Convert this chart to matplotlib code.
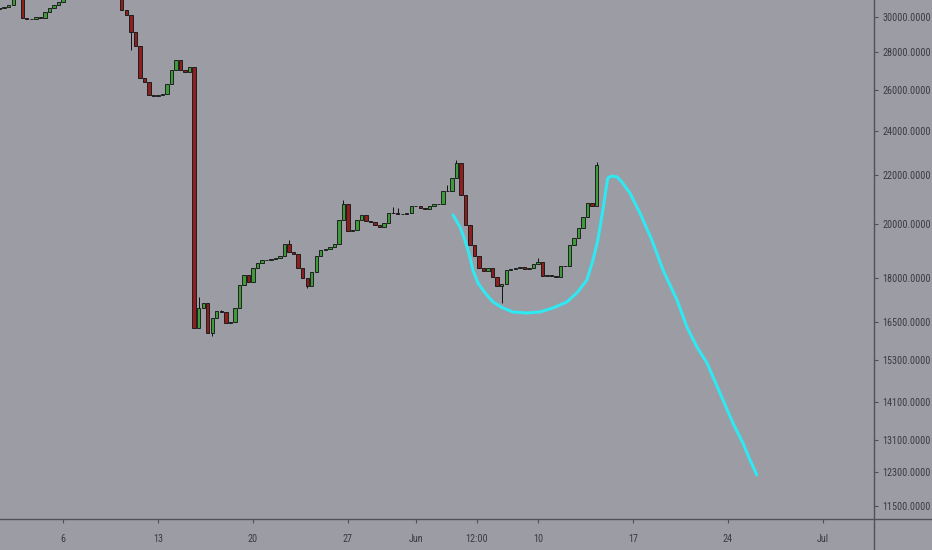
import matplotlib
matplotlib.use("Agg")
import matplotlib.pyplot as plt
import matplotlib.dates as mdates
from matplotlib.lines import Line2D
from matplotlib.ticker import FixedLocator, NullLocator
from matplotlib import font_manager
import pandas as pd

# 8h candles, open = previous close
first_open = 30475
closes = [
    30535, 30595, 30716, 31324, 31631, 29942, 29883, 29870, 30000, 29940,
    30296, 30535, 30716, 30895, 31324, 31800, 32200, 32600, 33000, 33300,
    33100, 32800, 33200, 33500, 33000, 32600, 32250, 30415, 30120, 29129,
    28343, 26619, 26411, 25746, 25696, 25746, 25797, 26308, 27039, 27574,
    27039, 26932, 27199, 16304, 16956, 17123, 16146, 16627, 16856, 16823,
    16465, 16497, 16956, 17739, 18090, 17843, 18339, 18521, 18629, 18640,
    18665, 18702, 18776, 19224, 18924, 18850, 18339, 17983, 17704, 18196,
    18776, 18998, 19036, 19111, 19224, 20149, 20792, 19720, 19758, 20149,
    20349, 20110, 20071, 19953, 19875, 20032, 20428, 20430, 20388, 20390,
    20428, 20711, 20700, 20629, 20588, 20711, 20792, 20800, 21328, 21330,
    21879, 22533, 21162, 19953, 19186, 18776, 18339, 18231, 18339, 18019,
    17704, 17774, 18267, 18303, 18339, 18375, 18303, 18339, 18484, 18556,
    18054, 18090, 18054, 18019, 18411, 18420, 19186, 19450, 19836, 20268,
    20833, 20711, 22445,
]
# visible wicks beyond the body (candle index -> price)
wick_high = {44: 17327, 49: 16900, 64: 19374, 76: 20955, 87: 20670, 88: 20629,
             99: 21580, 101: 22665, 119: 18703, 132: 22577}
wick_low = {29: 28120, 47: 16051, 68: 17635, 111: 17123}

# hand drawn projection (days since May 1, price)
proj_days = [33.74, 34.26, 34.62, 34.99, 35.21, 35.58, 36.10, 36.69, 37.42, 38.16,
             39.19, 40.15, 41.11, 42.14, 42.88, 43.61, 44.06, 44.42, 44.79, 45.01,
             45.16, 45.46, 45.83, 46.19, 46.78, 47.52, 48.40, 49.22, 50.25, 50.98,
             51.72, 52.46, 53.42, 54.37, 55.11, 55.63, 56.14]
proj_price = [20348, 19875, 19374, 18738, 18267, 17809, 17467, 17157, 16956, 16823,
              16790, 16823, 16956, 17157, 17467, 17913, 18629, 19374, 20548, 21370,
              21879, 21966, 21922, 21706, 21243, 20428, 19374, 18267, 17224, 16337,
              15707, 15222, 14353, 13533, 13013, 12586, 12221]

y_ticks = [11500, 12300, 13100, 14100, 15300, 16500, 18000, 20000, 22000,
           24000, 26000, 28000, 30000]
x_tick_dates = ["2022-05-06 00:00", "2022-05-13 00:00", "2022-05-20 00:00",
                "2022-05-27 00:00", "2022-06-01 00:00", "2022-06-05 12:00",
                "2022-06-10 00:00", "2022-06-17 00:00", "2022-06-24 00:00",
                "2022-07-01 00:00"]
x_tick_labels = ["6", "13", "20", "27", "Jun", "12:00", "10", "17", "24", "Jul"]

bg = "#9b9ca4"
axis_col = "#50515a"
txt_col = "#3a3b42"

# narrow face for the price scale if one is around
names = {f.name for f in font_manager.fontManager.ttflist}
label_font = font_manager.FontProperties(family=["DejaVu Sans"], size=6.3)
for cand in ["Liberation Sans Narrow", "DejaVu Sans Condensed", "Roboto Condensed"]:
    if cand in names:
        label_font = font_manager.FontProperties(family=[cand, "DejaVu Sans"], size=7.3)
        break

base = pd.Timestamp("2022-05-01")
times = pd.date_range("2022-05-01 08:00", periods=len(closes), freq="8h")
x = mdates.date2num(times)
opens = [first_open] + closes[:-1]
highs = [wick_high.get(i, max(o, c)) for i, (o, c) in enumerate(zip(opens, closes))]
lows = [wick_low.get(i, min(o, c)) for i, (o, c) in enumerate(zip(opens, closes))]

fig = plt.figure(figsize=(9.32, 5.5), dpi=100)
fig.patch.set_facecolor(bg)
ax = fig.add_axes([0, 31 / 550, 874 / 932, 519 / 550])
ax.set_facecolor(bg)
ax.set_yscale("log")

ax.vlines(x, lows, highs, color="#111111", lw=0.7, zorder=2)
for xi, o, c in zip(x, opens, closes):
    col = "#3f9a3a" if c >= o else "#8e1f1f"
    ax.bar(xi, abs(c - o), bottom=min(o, c), width=0.25, color=col,
           edgecolor="#111111", linewidth=0.6, zorder=3)

proj_x = mdates.date2num([base + pd.Timedelta(days=d) for d in proj_days])
ax.plot(proj_x, proj_price, color="#30e8f2", lw=2.2, solid_capstyle="round", zorder=4)

ax.set_xlim(mdates.date2num(base + pd.Timedelta(days=0.358)),
            mdates.date2num(base + pd.Timedelta(days=64.77)))
ax.set_ylim(11210, 31017)

ax.yaxis.tick_right()
ax.yaxis.set_major_locator(FixedLocator(y_ticks))
ax.yaxis.set_minor_locator(NullLocator())
ax.set_yticklabels([f"{v:.4f}" for v in y_ticks])
ax.xaxis.set_major_locator(FixedLocator(mdates.date2num(pd.to_datetime(x_tick_dates))))
ax.xaxis.set_minor_locator(NullLocator())
ax.set_xticklabels(x_tick_labels)

ax.tick_params(axis="y", direction="out", length=3, width=0.8, color=axis_col,
               labelcolor=txt_col, pad=3)
ax.tick_params(axis="x", direction="out", length=3, width=0.8, color=axis_col,
               labelcolor=txt_col, pad=8)
for lab in ax.get_xticklabels() + ax.get_yticklabels():
    lab.set_fontproperties(label_font)
for s in ax.spines.values():
    s.set_visible(False)

# axis lines run across the whole picture
fig.add_artist(Line2D([0, 1], [31 / 550, 31 / 550], transform=fig.transFigure,
                      color=axis_col, lw=1))
fig.add_artist(Line2D([874 / 932, 874 / 932], [0, 1], transform=fig.transFigure,
                      color=axis_col, lw=1))

fig.savefig("out.png", dpi=100, facecolor=bg)
